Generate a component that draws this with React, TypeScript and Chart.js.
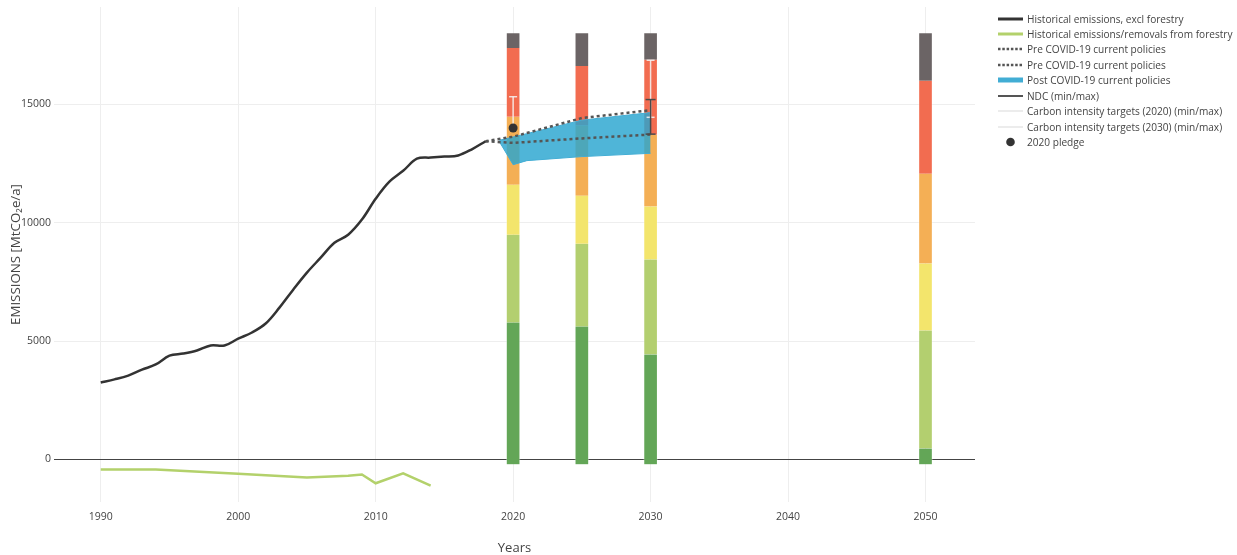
import React, { useEffect, useRef } from 'react';
import { Chart, registerables } from 'chart.js';

Chart.register(...registerables);

// ---------- data ----------
const histYears = [1990, 1991, 1992, 1993, 1994, 1995, 1996, 1997, 1998, 1999, 2000, 2001, 2002, 2003, 2004, 2005, 2006, 2007, 2008, 2009, 2010, 2011, 2012, 2013, 2014, 2015, 2016, 2017, 2018];
const histEmissions = [3250, 3380, 3540, 3790, 4010, 4380, 4470, 4600, 4810, 4810, 5100, 5360, 5740, 6410, 7170, 7890, 8520, 9150, 9490, 10130, 11010, 11730, 12190, 12700, 12750, 12790, 12840, 13100, 13440];

const forestryYears = [1990, 1994, 2000, 2005, 2008, 2009, 2010, 2012, 2014];
const forestryValues = [-430, -430, -610, -760, -690, -640, -1010, -590, -1110];

const preCovidYears = [2018, 2020, 2025, 2030];
const preCovidHigh = [13440, 13630, 14420, 14750];
const preCovidLow = [13440, 13370, 13560, 13720];

const postCovidYears = [2019, 2020, 2021, 2025, 2030];
const postCovidHigh = [13480, 13620, 13760, 14330, 14650];
const postCovidLow = [13420, 12450, 12620, 12790, 12930];

const ndcYear = 2030;
const ndcRange = [13740, 15200];
const ci2020Year = 2020;
const ci2020Range = [14000, 15320];
const ci2030Year = 2030;
const ci2030Range = [14450, 16860];
const pledgeYear = 2020;
const pledgeValue = 14000;

const ratingYears = [2020, 2025, 2030, 2050];
const ratingBase = -210;
const roleModelTop = [5780, 5610, 4430, 460];
const compatible15Top = [9490, 9110, 8440, 5440];
const compatible2Top = [11600, 11140, 10680, 8270];
const insufficientTop = [14470, 14100, 13710, 12070];
const highlyInsufficientTop = [17380, 16620, 16880, 15990];
const criticallyInsufficientTop = [18000, 18000, 18000, 18000];
const ratingColors = ['#63a657', '#b3cf6f', '#f3e56c', '#f4af55', '#f26c50', '#6b6465'];

const xTicks = [1990, 2000, 2010, 2020, 2030, 2040, 2050];
const yTicks = [0, 5000, 10000, 15000];

const legendLabels = [
  'Historical emissions, excl forestry',
  'Historical emissions/removals from forestry',
  'Pre COVID-19 current policies',
  'Pre COVID-19 current policies',
  'Post COVID-19 current policies',
  'NDC (min/max)',
  'Carbon intensity targets (2020) (min/max)',
  'Carbon intensity targets (2030) (min/max)',
  '2020 pledge',
];

const FONT = '"Open Sans", sans-serif';
const BLUE_LINE = 'rgb(66,173,212)';
const BLUE_FILL = 'rgba(40,165,208,0.82)';
const LIGHT_BAR = 'rgba(245,245,245,0.85)';

export default function App() {
  const ref = useRef<HTMLCanvasElement>(null);

  useEffect(() => {
    const canvas = ref.current;
    if (!canvas) return;
    const xy = (xs: number[], ys: number[]) => xs.map((x, i) => ({ x, y: ys[i] }));

    const tops = [roleModelTop, compatible15Top, compatible2Top, insufficientTop, highlyInsufficientTop, criticallyInsufficientTop];
    const barSets: any[] = tops.map((top, k) => ({
      type: 'bar',
      label: 'rating' + k,
      data: ratingYears.map((x, i) => ({ x, y: [k === 0 ? ratingBase : tops[k - 1][i], top[i]] })),
      backgroundColor: ratingColors[k],
      borderColor: 'rgba(255,255,255,0.35)',
      borderWidth: { left: 1, right: 1, top: 0, bottom: 0 },
      borderSkipped: false,
      barThickness: 14,
      grouped: false,
      order: 10,
    }));

    const lineBase = { type: 'line', pointRadius: 0, pointHoverRadius: 0, fill: false };

    const datasets: any[] = [
      ...barSets,
      { ...lineBase, label: 'postLow', data: xy(postCovidYears, postCovidLow), borderColor: BLUE_LINE, borderWidth: 1, order: 8 },
      { ...lineBase, label: 'postHigh', data: xy(postCovidYears, postCovidHigh), borderColor: BLUE_LINE, borderWidth: 1, fill: '-1', backgroundColor: BLUE_FILL, order: 8 },
      { ...lineBase, label: 'preHigh', data: xy(preCovidYears, preCovidHigh), borderColor: '#555', borderWidth: 2.5, borderDash: [3, 3], order: 6 },
      { ...lineBase, label: 'preLow', data: xy(preCovidYears, preCovidLow), borderColor: '#555', borderWidth: 2.5, borderDash: [3, 3], order: 6 },
      { ...lineBase, label: 'hist', data: xy(histYears, histEmissions), borderColor: '#333', borderWidth: 2.5, tension: 0.35, order: 5 },
      { ...lineBase, label: 'forestry', data: xy(forestryYears, forestryValues), borderColor: '#b3d16b', borderWidth: 2.5, order: 5 },
      { type: 'line', label: 'ci2020', data: ci2020Range.map((y) => ({ x: ci2020Year, y })), borderColor: LIGHT_BAR, borderWidth: 1.5, pointStyle: 'line', pointRadius: 4, pointHoverRadius: 4, pointBorderColor: LIGHT_BAR, pointBorderWidth: 1.5, fill: false, order: 3 },
      { type: 'line', label: 'ci2030', data: ci2030Range.map((y) => ({ x: ci2030Year, y })), borderColor: LIGHT_BAR, borderWidth: 1.5, pointStyle: 'line', pointRadius: 4, pointHoverRadius: 4, pointBorderColor: LIGHT_BAR, pointBorderWidth: 1.5, fill: false, order: 3 },
      { type: 'line', label: 'ndc', data: ndcRange.map((y) => ({ x: ndcYear, y })), borderColor: '#4a4a4a', borderWidth: 1.5, pointStyle: 'line', pointRadius: 5, pointHoverRadius: 5, pointBorderColor: '#4a4a4a', pointBorderWidth: 1.5, fill: false, order: 2 },
      { type: 'line', label: 'pledge', data: [{ x: pledgeYear, y: pledgeValue }], showLine: false, pointRadius: 4.5, pointHoverRadius: 4.5, pointBackgroundColor: '#333', pointBorderColor: '#333', pointBorderWidth: 0, order: 1 },
    ];

    const chart = new Chart(canvas, {
      type: 'line',
      data: { datasets },
      options: {
        responsive: false,
        animation: false,
        events: [],
        layout: { padding: { left: 0, top: 7, right: 262, bottom: 0 } },
        plugins: { legend: { display: false }, tooltip: { enabled: false } },
        scales: {
          x: {
            type: 'linear',
            min: 1986.6,
            max: 2053.6,
            offset: false,
            grid: { color: '#eeeeee', lineWidth: 1, drawTicks: false, offset: false },
            border: { display: false },
            ticks: { font: { family: FONT, size: 10.5 }, color: '#444', padding: 9, maxRotation: 0, autoSkip: false, callback: (v: any) => String(v) },
            afterBuildTicks: (s: any) => { s.ticks = xTicks.map((value) => ({ value })); },
            afterFit: (s: any) => { s.height = 53; s.paddingLeft = 0; s.paddingRight = 0; },
            title: { display: true, text: 'Years', font: { family: FONT, size: 13 }, color: '#444', padding: { top: 0, bottom: -1.5 } },
          },
          y: {
            type: 'linear',
            min: -1800,
            max: 19110,
            grid: { color: (c: any) => (c.tick && c.tick.value === 0 ? '#444' : '#eeeeee'), lineWidth: 1, drawTicks: false },
            border: { display: false },
            ticks: { font: { family: FONT, size: 10.5 }, color: '#444', padding: 3, callback: (v: any) => String(v) },
            afterBuildTicks: (s: any) => { s.ticks = yTicks.map((value) => ({ value })); },
            afterFit: (s: any) => { s.width = 54; s.paddingTop = 0; s.paddingBottom = 0; },
            title: { display: true, text: 'EMISSIONS [MtCO₂e/a]', font: { family: FONT, size: 13.3 }, color: '#444', padding: { top: 8.5, bottom: 0 } },
          },
        },
      } as any,
    });
    return () => chart.destroy();
  }, []);

  const sample = (i: number) => {
    switch (i) {
      case 0: return <line x1={0} x2={25} y1={8} y2={8} stroke="#333" strokeWidth={3} />;
      case 1: return <line x1={0} x2={25} y1={8} y2={8} stroke="#b3d16b" strokeWidth={3} />;
      case 2:
      case 3: return <line x1={0} x2={25} y1={8} y2={8} stroke="#555" strokeWidth={2.5} strokeDasharray="2.5 1.8" />;
      case 4: return <line x1={0} x2={25} y1={8} y2={8} stroke={BLUE_LINE} strokeWidth={5} />;
      case 5: return <line x1={0} x2={25} y1={8} y2={8} stroke="#555" strokeWidth={2} />;
      case 6:
      case 7: return <line x1={0} x2={25} y1={8} y2={8} stroke="#ececec" strokeWidth={2} />;
      default: return <circle cx={12.5} cy={8} r={4.3} fill="#333" />;
    }
  };

  return (
    <div style={{ position: 'absolute', left: 0, top: 0, width: 1237, height: 555, background: '#fff', overflow: 'hidden' }}>
      <canvas ref={ref} width={1237} height={555} style={{ position: 'absolute', left: 0, top: 0, display: 'block' }} />
      {legendLabels.map((label, i) => {
        const cy = 18.5 + i * 15.45;
        return (
          <div key={i} style={{ position: 'absolute', left: 998, top: cy - 8, height: 16, width: 239 }}>
            <svg width={28} height={16} style={{ position: 'absolute', left: 0, top: 0 }}>{sample(i)}</svg>
            <span style={{ position: 'absolute', left: 29, top: 0, lineHeight: '16px', fontFamily: FONT, fontSize: 10.1, color: '#444', whiteSpace: 'nowrap' }}>{label}</span>
          </div>
        );
      })}
    </div>
  );
}
